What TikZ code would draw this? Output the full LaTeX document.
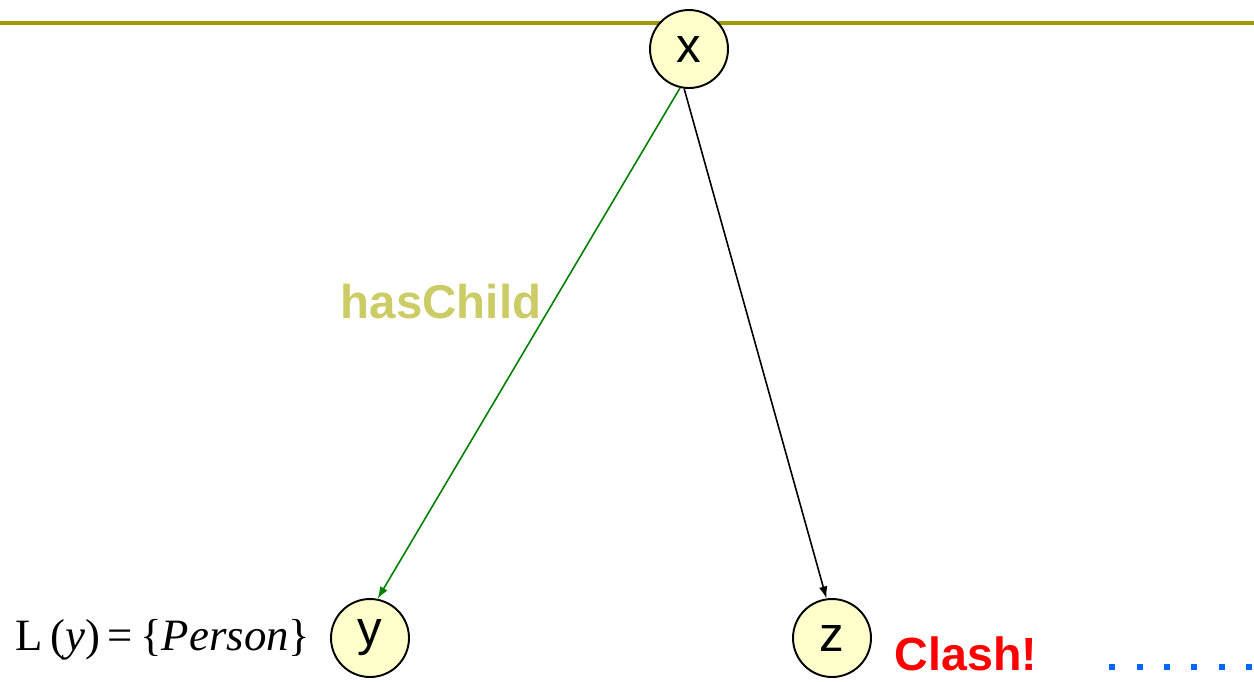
\documentclass[tikz,border=0pt]{standalone}
\usepackage{fontspec}
\setmainfont{Liberation Serif}
\setsansfont{Liberation Sans}
\usetikzlibrary{arrows.meta}
\definecolor{rulecolor}{RGB}{160,154,0}
\definecolor{nodefill}{RGB}{255,255,204}
\definecolor{rolecolor}{RGB}{204,204,102}
\definecolor{edgegreen}{RGB}{0,128,0}
\definecolor{dotblue}{RGB}{0,102,255}
\tikzstyle{indiv}=[circle, draw, line width=1.1pt, fill=nodefill, minimum size=1.56cm, inner sep=0,
  font=\sffamily\fontsize{28}{30}\selectfont]
\tikzstyle{edge}=[-{Latex[length=0.24cm, width=0.17cm]}, line width=0.9pt]

\begin{document}
\begin{tikzpicture}[x=0.02cm, y=-0.02cm]
    \useasboundingbox (0, 0) rectangle (1254, 681);
    \fill[rulecolor] (0, 20.5) rectangle (1254, 24.5);
    \node[indiv] (x) at (689, 49) {x};
    \node[indiv] (y) at (370, 638) {y};
    \node[indiv] (z) at (832, 638) {z};
    \draw[edge, edgegreen] (x.257) -- (y.79);
    \draw[edge] (x.263) -- (z.98);
    \node[rolecolor, font=\sffamily\bfseries\fontsize{27}{29}\selectfont] (haschild) at (441, 302) {hasChild};
    \node[font=\fontsize{25.5}{27}\selectfont] (label) at (163, 640) {L\,(\textit{y})\,=\,\{\textit{Person}\}};
    \node[red, font=\sffamily\bfseries\fontsize{26.5}{28}\selectfont] (clash) at (966, 654) {Clash!};
    % dotted continuation off the right edge
    \coordinate (dots) at (1109, 667);
    \draw[dotblue, line width=0.12cm, dash pattern=on 0.12cm off 0.43cm] (dots) -- (1270, 667);
\end{tikzpicture}
\end{document}
